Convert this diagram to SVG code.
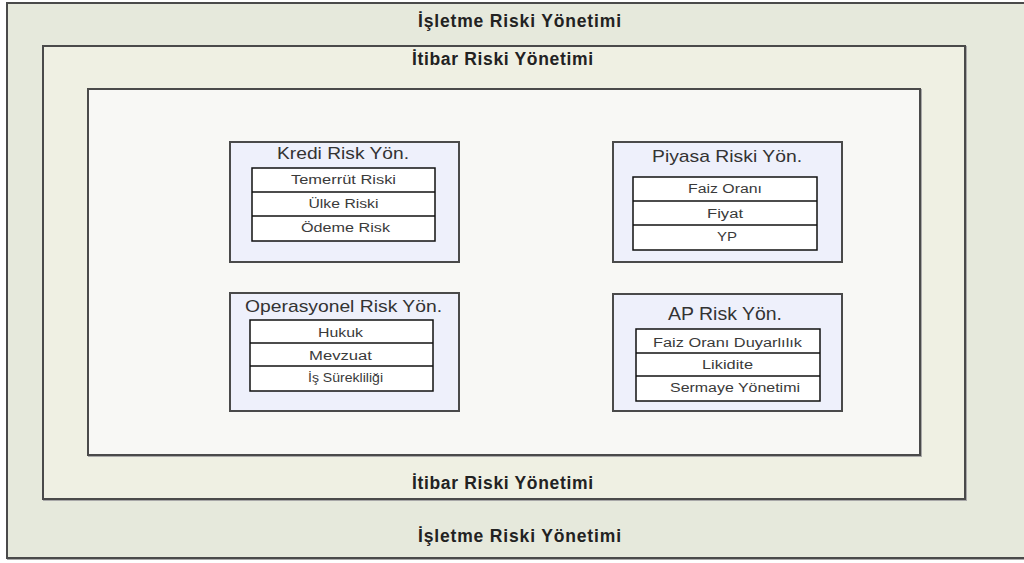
<svg xmlns="http://www.w3.org/2000/svg" width="1024" height="563" viewBox="0 0 1024 563">
<style>
.frame{stroke:#4a4a4a;stroke-width:2}
.shadow{fill:none;stroke:#a8a8a8;stroke-width:2}
.big{font-family:"Liberation Sans",Arial,sans-serif;font-weight:bold;font-size:17.5px;fill:#222;text-anchor:middle}
.sub{fill:#eef0fb;stroke:#4a4a4a;stroke-width:2}
.ttl{font-family:"Liberation Sans",Arial,sans-serif;font-size:17px;fill:#333;text-anchor:middle}
.cell{fill:#ffffff;stroke:#111;stroke-width:1.5}
.row{font-family:"Liberation Sans",Arial,sans-serif;font-size:12.5px;fill:#3a3a3a;text-anchor:middle}
</style>
<rect width="1024" height="563" fill="#ffffff"/>
<g id="isletme">
<rect x="8" y="4" width="1020" height="555" class="shadow"/>
<rect x="7" y="3" width="1020" height="555" fill="#e6e9dc" class="frame"/>
<text x="519.5" y="27" class="big" textLength="203" lengthAdjust="spacing">İşletme Riski Yönetimi</text>
<text x="519.5" y="542" class="big" textLength="203" lengthAdjust="spacing">İşletme Riski Yönetimi</text>
</g>
<g id="itibar">
<rect x="44" y="47" width="922" height="453" class="shadow"/>
<rect x="43" y="46" width="922" height="453" fill="#eff0e3" class="frame"/>
<text x="502.5" y="65" class="big" textLength="181" lengthAdjust="spacing">İtibar Riski Yönetimi</text>
<text x="502.5" y="489" class="big" textLength="181" lengthAdjust="spacing">İtibar Riski Yönetimi</text>
</g>
<g id="core">
<rect x="89" y="90" width="832" height="366" class="shadow"/>
<rect x="88" y="89" width="832" height="366" fill="#f8f8f5" class="frame"/>
</g>
<g id="kredi">
<rect x="230" y="142" width="229" height="120" class="sub"/>
<text x="343" y="159" class="ttl" textLength="132" lengthAdjust="spacingAndGlyphs">Kredi Risk Yön.</text>
<rect x="252" y="168" width="183" height="73" class="cell"/>
<line x1="252" y1="192" x2="435" y2="192" class="cell"/>
<line x1="252" y1="216" x2="435" y2="216" class="cell"/>
<text x="343.5" y="184" class="row" textLength="105" lengthAdjust="spacingAndGlyphs">Temerrüt Riski</text>
<text x="343.5" y="208" class="row" textLength="70" lengthAdjust="spacingAndGlyphs">Ülke Riski</text>
<text x="345.5" y="232" class="row" textLength="89" lengthAdjust="spacingAndGlyphs">Ödeme Risk</text>
</g>
<g id="piyasa">
<rect x="613" y="142" width="229" height="120" class="sub"/>
<text x="727" y="162" class="ttl" textLength="150" lengthAdjust="spacingAndGlyphs">Piyasa Riski Yön.</text>
<rect x="633" y="177" width="184" height="73" class="cell"/>
<line x1="633" y1="201" x2="817" y2="201" class="cell"/>
<line x1="633" y1="225" x2="817" y2="225" class="cell"/>
<text x="725" y="193" class="row" textLength="74" lengthAdjust="spacingAndGlyphs">Faiz Oranı</text>
<text x="725" y="218" class="row" textLength="36" lengthAdjust="spacingAndGlyphs">Fiyat</text>
<text x="727" y="241" class="row" textLength="20" lengthAdjust="spacingAndGlyphs">YP</text>
</g>
<g id="operasyonel">
<rect x="230" y="293" width="229" height="118" class="sub"/>
<text x="343.5" y="312" class="ttl" textLength="197" lengthAdjust="spacingAndGlyphs">Operasyonel Risk Yön.</text>
<rect x="250" y="320" width="183" height="71" class="cell"/>
<line x1="250" y1="343" x2="433" y2="343" class="cell"/>
<line x1="250" y1="366" x2="433" y2="366" class="cell"/>
<text x="340.5" y="337" class="row" textLength="45" lengthAdjust="spacingAndGlyphs">Hukuk</text>
<text x="340.5" y="360" class="row" textLength="63" lengthAdjust="spacingAndGlyphs">Mevzuat</text>
<text x="345.5" y="382" class="row" textLength="75" lengthAdjust="spacingAndGlyphs">İş Sürekliliği</text>
</g>
<g id="ap">
<rect x="613" y="294" width="229" height="117" class="sub"/>
<text x="725" y="320" class="ttl" style="font-size:19px" textLength="114" lengthAdjust="spacingAndGlyphs">AP Risk Yön.</text>
<rect x="636" y="329" width="184" height="72" class="cell"/>
<line x1="636" y1="353" x2="820" y2="353" class="cell"/>
<line x1="636" y1="376" x2="820" y2="376" class="cell"/>
<text x="727.5" y="347" class="row" textLength="149" lengthAdjust="spacingAndGlyphs">Faiz Oranı Duyarlılık</text>
<text x="727.5" y="369" class="row" textLength="51" lengthAdjust="spacingAndGlyphs">Likidite</text>
<text x="735" y="392" class="row" textLength="130" lengthAdjust="spacingAndGlyphs">Sermaye Yönetimi</text>
</g>
<g id="connectors"/>
</svg>
